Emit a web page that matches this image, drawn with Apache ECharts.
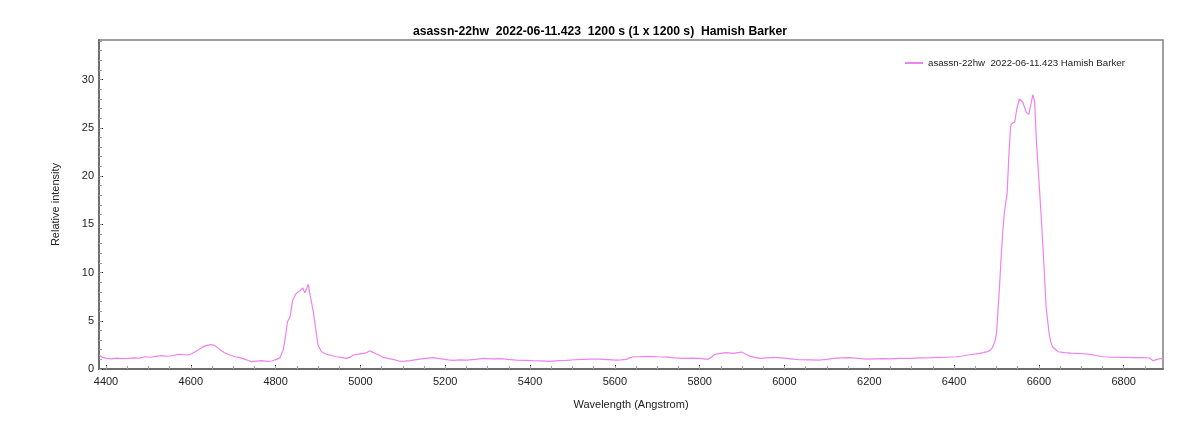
<!DOCTYPE html>
<html>
<head>
<meta charset="utf-8">
<script src="https://cdn.jsdelivr.net/npm/echarts@6/dist/echarts.min.js"></script>
<style>
html,body{margin:0;padding:0;background:#fff;}
#chart{width:1200px;height:429px;}
</style>
</head>
<body>
<div id="chart"></div>
<script>
const titleText = 'asassn-22hw  2022-06-11.423  1200 s (1 x 1200 s)  Hamish Barker';
const seriesName = 'asassn-22hw  2022-06-11.423 Hamish Barker';
const xAxisName = 'Wavelength (Angstrom)';
const yAxisName = 'Relative intensity';

const xMin = 4383.5, xMax = 6892.6;
const yMin = 0, yMax = 34.1;
const xMajorTicks = [4400,4600,4800,5000,5200,5400,5600,5800,6000,6200,6400,6600,6800];
const yMajorTicks = [0,5,10,15,20,25,30];

const wavelengths = [
4384,4392,4400,4413,4425,4437,4452,4465,4478,4492,4505,4518,4531,4545,4558,4570,4582,4594,4603,4610,
4618,4626,4634,4641,4647,4653,4659,4665,4672,4680,4692,4704,4716,4728,4736,4743,4755,4767,4779,4791,
4802,4810,4814,4818,4822,4828,4834,4840,4848,4856,4860,4864,4869,4873,4877,4882,4889,4895,4900,4908,
4920,4932,4944,4955,4967,4975,4983,4995,5007,5015,5022,5030,5038,5046,5054,5065,5077,5093,5105,5117,
5128,5140,5155,5172,5183,5195,5207,5219,5235,5250,5270,5289,5310,5329,5348,5368,5388,5407,5427,5447,
5466,5486,5505,5525,5545,5564,5584,5604,5615,5627,5635,5643,5660,5682,5700,5722,5740,5761,5780,5800,
5810,5820,5828,5836,5850,5863,5879,5890,5899,5908,5918,5930,5942,5957,5973,5990,6005,6020,6036,6060,
6083,6100,6115,6135,6154,6173,6193,6212,6232,6250,6272,6295,6320,6345,6366,6385,6405,6420,6437,6452,
6460,6468,6478,6484,6490,6493,6497,6500,6503,6507,6511,6515,6519,6525,6529,6533,6535,6543,6548,6554,
6558,6562,6570,6576,6580,6582,6586,6590,6594,6600,6606,6612,6617,6624,6628,6632,6645,6660,6675,6688,
6705,6720,6735,6751,6775,6798,6820,6845,6861,6865,6869,6875,6881,6889,6893
];
const intensities = [
1.45,1.2,1.1,1.05,1.12,1.08,1.1,1.15,1.12,1.27,1.22,1.3,1.38,1.32,1.4,1.52,1.48,1.45,1.6,1.79,
2.0,2.24,2.4,2.48,2.52,2.48,2.35,2.14,1.9,1.69,1.45,1.27,1.18,1.0,0.88,0.76,0.82,0.86,0.8,0.83,
1.0,1.15,1.27,2.0,3.0,4.9,5.4,7.1,7.8,8.07,8.2,8.4,7.9,8.3,8.8,7.5,5.9,4.0,2.48,1.79,
1.52,1.4,1.27,1.2,1.1,1.2,1.45,1.55,1.62,1.7,1.9,1.72,1.55,1.4,1.2,1.1,1.0,0.8,0.82,0.86,
0.95,1.03,1.1,1.17,1.1,1.03,0.95,0.9,0.95,0.93,1.0,1.1,1.05,1.07,1.0,0.93,0.9,0.86,0.84,0.8,
0.86,0.9,0.96,1.0,1.02,1.03,0.98,0.93,0.95,1.0,1.15,1.27,1.28,1.3,1.27,1.24,1.15,1.1,1.12,1.1,
1.05,1.0,1.25,1.52,1.62,1.69,1.62,1.7,1.76,1.55,1.34,1.2,1.1,1.15,1.2,1.15,1.1,1.02,0.96,0.95,
0.93,1.0,1.1,1.15,1.17,1.1,1.03,1.05,1.07,1.05,1.1,1.1,1.15,1.17,1.2,1.22,1.27,1.35,1.48,1.56,
1.62,1.69,1.8,1.9,2.2,2.48,3.0,3.7,5.76,8.5,11.6,14.4,16.4,18.2,22.0,25.0,25.4,25.6,27.0,28.0,
28.1,27.65,26.6,26.4,27.2,27.65,28.45,27.65,23.7,19.55,15.4,10.6,6.4,3.7,2.8,2.3,1.79,1.7,1.65,1.62,
1.58,1.52,1.4,1.27,1.22,1.2,1.18,1.17,1.14,1.0,0.86,0.95,1.03,1.07,1.07
];

const xMinorTicks = [];
for (let v = 4400; v <= 6850; v += 50) xMinorTicks.push(v);
const yMinorTicks = [];
for (let v = 0; v <= 34; v += 1) yMinorTicks.push(v);

const data = wavelengths.map((w, i) => [w, intensities[i]]);

const chart = echarts.init(document.getElementById('chart'), null, {renderer: 'canvas'});
const FONT = 'Liberation Sans, Arial, sans-serif';
const axisLineStyle = {color: '#6e6e6e', width: 2};

chart.setOption({
  animation: false,
  backgroundColor: '#ffffff',
  title: {
    text: titleText,
    left: 'center',
    top: 21,
    textStyle: {fontFamily: FONT, fontSize: 12.2, fontWeight: 'bold', color: '#000'}
  },
  legend: {
    data: [seriesName],
    left: 900,
    top: 53,
    icon: 'rect',
    itemWidth: 18,
    itemHeight: 2,
    itemGap: 6,
    textStyle: {fontFamily: FONT, fontSize: 9.7, color: '#222'}
  },
  grid: {
    left: 99, right: 37, top: 40, bottom: 60,
    show: true, borderColor: '#808080', borderWidth: 1.5, backgroundColor: '#fff'
  },
  xAxis: [
    {
      type: 'value', min: xMin, max: xMax, position: 'bottom',
      name: xAxisName, nameLocation: 'middle', nameGap: 30,
      nameTextStyle: {fontFamily: FONT, fontSize: 11, color: '#222'},
      axisLine: {show: true, onZero: false, lineStyle: axisLineStyle},
      axisTick: {show: true, inside: true, length: 4, customValues: xMajorTicks, lineStyle: {color: '#222', width: 1}},
      axisLabel: {show: true, customValues: xMajorTicks, margin: 7, fontFamily: FONT, fontSize: 11, color: '#222',
        formatter: function (v) { return String(Math.round(v)); }},
      splitLine: {show: false}
    },
    {
      type: 'value', min: xMin, max: xMax, position: 'bottom',
      axisLine: {show: false, onZero: false},
      axisTick: {show: true, inside: true, length: 3, customValues: xMinorTicks, lineStyle: {color: '#a0a0a0', width: 1}},
      axisLabel: {show: false},
      splitLine: {show: false}
    }
  ],
  yAxis: [
    {
      type: 'value', min: yMin, max: yMax, position: 'left',
      name: yAxisName, nameLocation: 'middle', nameGap: 38, nameRotate: 90,
      nameTextStyle: {fontFamily: FONT, fontSize: 11, color: '#222'},
      axisLine: {show: true, onZero: false, lineStyle: axisLineStyle},
      axisTick: {show: true, inside: true, length: 4, customValues: yMajorTicks, lineStyle: {color: '#222', width: 1}},
      axisLabel: {show: true, customValues: yMajorTicks, margin: 5, fontFamily: FONT, fontSize: 11, color: '#222',
        formatter: function (v) { return String(Math.round(v)); }},
      splitLine: {show: false}
    },
    {
      type: 'value', min: yMin, max: yMax, position: 'left',
      axisLine: {show: false, onZero: false},
      axisTick: {show: true, inside: true, length: 3, customValues: yMinorTicks, lineStyle: {color: '#a0a0a0', width: 1}},
      axisLabel: {show: false},
      splitLine: {show: false}
    }
  ],
  series: [{
    name: seriesName,
    type: 'line',
    xAxisIndex: 0,
    yAxisIndex: 0,
    data: data,
    showSymbol: false,
    symbol: 'none',
    smooth: false,
    lineStyle: {color: '#ee82ee', width: 1.2},
    itemStyle: {color: '#ee82ee'}
  }]
});
</script>
</body>
</html>
